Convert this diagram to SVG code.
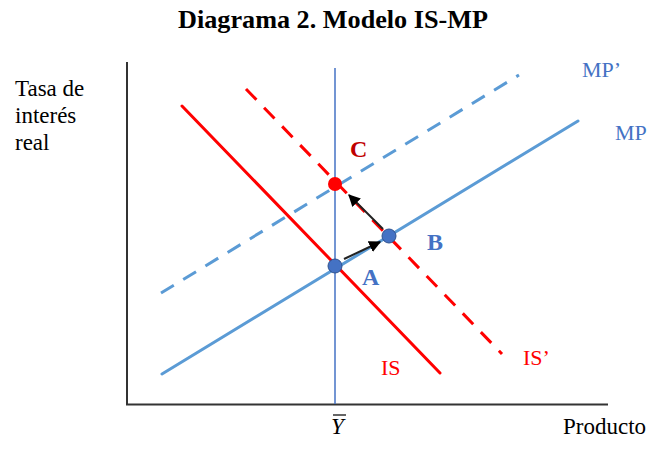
<svg xmlns="http://www.w3.org/2000/svg" width="650" height="451" viewBox="0 0 650 451">
<defs>
<style>
text{font-family:"Liberation Serif","Times New Roman",serif}
.title{font-size:25px;font-weight:bold;fill:#000}
.ax{font-size:23px;fill:#000}
.blue{fill:#4472C4}
.red{fill:#FF0000}
.lbl{font-size:22px}
.pt{font-size:24px;font-weight:bold}
.axis{stroke:#333;stroke-width:2;fill:none}
.mp{stroke:#5B9BD5;stroke-width:3;fill:none;stroke-linecap:round}
.is{stroke:#FF0000;stroke-width:3;fill:none;stroke-linecap:round}
.dash{stroke-dasharray:15 11;stroke-linecap:butt}
.arr{stroke:#222;stroke-width:2;fill:none}
</style>
<marker id="ah" viewBox="0 0 10 10" refX="9" refY="5" markerWidth="6" markerHeight="6" orient="auto" markerUnits="strokeWidth">
<path d="M0,0 L10,5 L0,10 z" fill="#000"/>
</marker>
</defs>
<rect width="650" height="451" fill="#fff"/>
<text class="title" x="178" y="28" textLength="310" lengthAdjust="spacingAndGlyphs">Diagrama 2. Modelo IS-MP</text>
<g id="axes">
<line class="axis" x1="127" y1="62" x2="127" y2="405"/>
<line class="axis" x1="126" y1="404.5" x2="608" y2="404.5"/>
<line x1="335" y1="68" x2="335" y2="404" stroke="#4472C4" stroke-width="1.5"/>
<text class="ax" x="15" y="96">Tasa de</text>
<text class="ax" x="15" y="123">interés</text>
<text class="ax" x="15" y="150">real</text>
<text class="ax" x="563" y="434">Producto</text>
<text class="ax" x="331" y="434" font-style="italic">Y</text>
<line x1="333" y1="415" x2="346" y2="415" stroke="#000" stroke-width="1.2"/>
</g>
<g id="curves">
<line id="MP" class="mp" x1="162" y1="374" x2="578" y2="121"/>
<line id="MPp" class="mp dash" x1="161" y1="293" x2="519" y2="75"/>
<line id="IS" class="is" x1="182" y1="106" x2="440" y2="373"/>
<line id="ISp" class="is dash" x1="246" y1="89" x2="502" y2="354"/>
</g>
<g id="connectors">
<line class="arr" x1="344" y1="259" x2="380" y2="242" marker-end="url(#ah)"/>
<line class="arr" x1="383" y1="229" x2="349" y2="195" marker-end="url(#ah)"/>
</g>
<g id="nodeA">
<circle cx="335" cy="266" r="7" fill="#4472C4" stroke="#2F528F" stroke-width="1"/>
<text class="pt blue" x="362" y="285">A</text>
</g>
<g id="nodeB">
<circle cx="389" cy="236" r="7" fill="#4472C4" stroke="#2F528F" stroke-width="1"/>
<text class="pt blue" x="427" y="250">B</text>
</g>
<g id="nodeC">
<circle cx="335" cy="184" r="7" fill="#FF0000"/>
<text class="pt" x="350" y="157" fill="#C00000">C</text>
</g>
<g id="labels">
<text class="lbl blue" x="582" y="77">MP’</text>
<text class="lbl blue" x="615" y="140">MP</text>
<text class="lbl red" x="381" y="375">IS</text>
<text class="lbl red" x="523" y="365">IS’</text>
</g>
</svg>
